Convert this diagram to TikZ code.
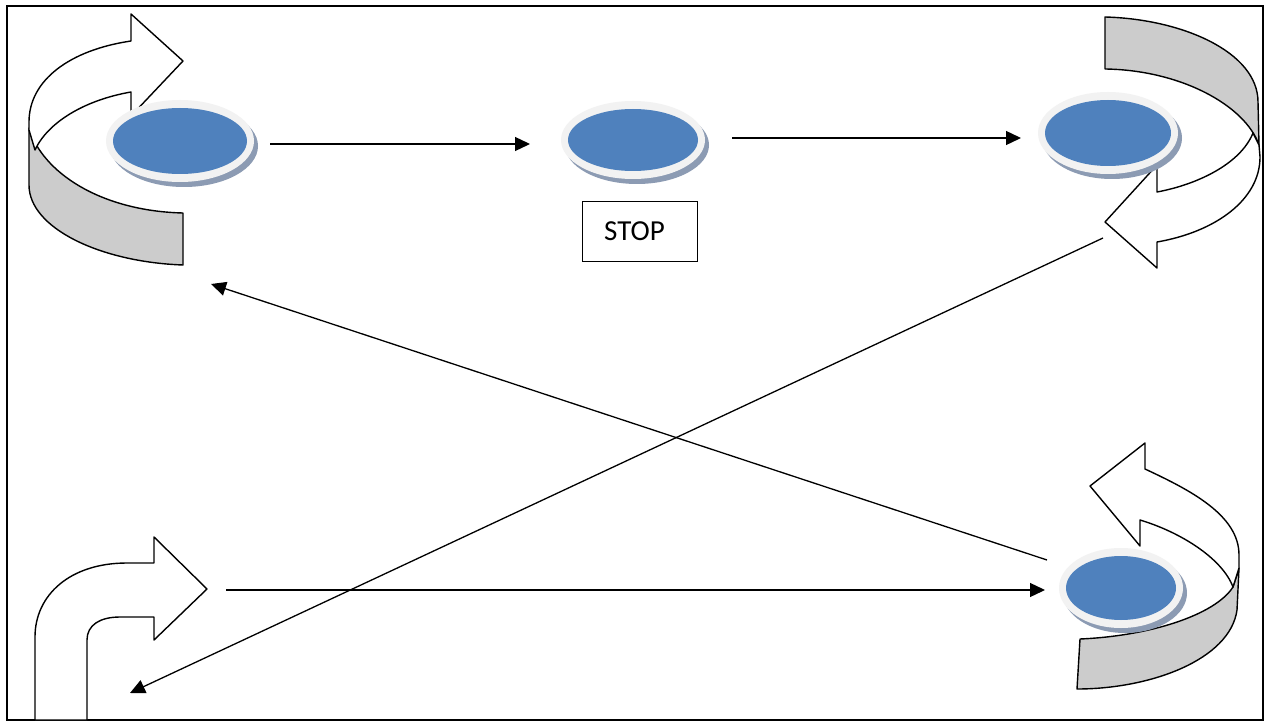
\documentclass[tikz,border=0pt]{standalone}
\usepackage{fontspec}
\setmainfont{Carlito}
\usetikzlibrary{arrows.meta,shapes.geometric}
\definecolor{discblue}{HTML}{4F81BD}
\definecolor{discring}{HTML}{F2F2F2}
\definecolor{discshadow}{HTML}{8C9BB3}
\definecolor{bandgray}{HTML}{CCCCCC}
\tikzset{
  conn/.style={line width=1.3pt,-{Triangle[length=15pt,width=14pt]}},
  band/.style={draw=black,line width=1.4pt,line join=round},
  grayband/.style={band,fill=bandgray},
  whiteband/.style={band,fill=white},
  disc/.style={ellipse,fill=discblue,inner sep=0pt},
  stopbox/.style={draw=black,line width=1pt,inner sep=0pt,font=\fontsize{29}{34}\selectfont},
  frame/.style={draw=black,line width=1.5pt}
}
\newcommand\mydisc[5]{%
  \path[fill=discshadow,shift={(4,5)}] (#2,#3) ellipse [x radius=#4pt+7pt,y radius=#5pt+8pt];
  \path[fill=discring] (#2,#3) ellipse [x radius=#4pt+7pt,y radius=#5pt+8pt];
  \node[disc,minimum width={2*#4pt},minimum height={2*#5pt}] (#1) at (#2,#3) {};
}
\begin{document}
\begin{tikzpicture}[x=1pt,y=-1pt]
\useasboundingbox (0,0) rectangle (1271,722);
\fill[white] (0,0) rectangle (1271,722);
\draw[frame] (7,6) rectangle (1263,720);

% top-left curved arrow
\draw[grayband] (29,128) -- (29,185) .. controls (29,228) and (100,262) .. (183,265)
  -- (183,213) .. controls (100,211) and (42,172) .. (29,128) -- cycle;
\draw[whiteband] (29,130) -- (29,122) .. controls (29,80) and (70,50) .. (131,41)
  -- (131,14) -- (183,61) -- (131,116) -- (131,92)
  .. controls (85,100) and (48,122) .. (35,150) -- cycle;

% top-right curved arrow
\draw[grayband] (1105,17) .. controls (1182,19) and (1258,52) .. (1258,102)
  -- (1259,145) .. controls (1245,105) and (1180,70) .. (1105,69) -- cycle;
\draw[whiteband] (1259,145) -- (1260,157) .. controls (1260,200) and (1215,232) .. (1157,242)
  -- (1157,268) -- (1105,222) -- (1157,165) -- (1157,192)
  .. controls (1195,185) and (1240,165) .. (1253,133) -- cycle;

% bottom-right curved arrow
\draw[grayband] (1077,689) -- (1080,639) .. controls (1150,636) and (1215,615) .. (1233,587)
  -- (1239,568) -- (1237,610) .. controls (1230,660) and (1150,689) .. (1077,689) -- cycle;
\draw[whiteband] (1145,469) -- (1145,443) -- (1090,486) -- (1140,546) -- (1140,520)
  .. controls (1180,532) and (1222,558) .. (1233,587) -- (1239,568) -- (1239,555)
  .. controls (1239,515) and (1190,490) .. (1145,469) -- cycle;

% bottom-left bent arrow
\draw[whiteband] (35,720) -- (35,637) .. controls (35,595) and (70,563) .. (127,563)
  -- (154,563) -- (154,537) -- (207,589) -- (154,640) -- (154,617) -- (120,617)
  .. controls (100,617) and (87,625) .. (87,640) -- (87,720) -- cycle;

% discs
\mydisc{d1}{180}{141}{67}{33}
\mydisc{d2}{633}{140}{65}{31}
\mydisc{d3}{1108}{133}{63}{33}
\mydisc{d4}{1121}{588}{55}{32}

% STOP label box
\node[stopbox,minimum width=115pt,minimum height=59pt] (stop) at (639.5,231.5) {STOP\hspace*{10pt}};

% connector end points
\coordinate (a1s) at (270,144); \coordinate (a1e) at (530,144);
\coordinate (a2s) at (732,138); \coordinate (a2e) at (1021,138);
\coordinate (a3s) at (1047,560); \coordinate (a3e) at (211,284);
\coordinate (a4s) at (1103,238); \coordinate (a4e) at (130,693);
\coordinate (a5s) at (226,590); \coordinate (a5e) at (1045,590);

\draw[conn] (a1s) -- (a1e);
\draw[conn] (a2s) -- (a2e);
\draw[conn] (a3s) -- (a3e);
\draw[conn] (a4s) -- (a4e);
\draw[conn] (a5s) -- (a5e);
\end{tikzpicture}
\end{document}
